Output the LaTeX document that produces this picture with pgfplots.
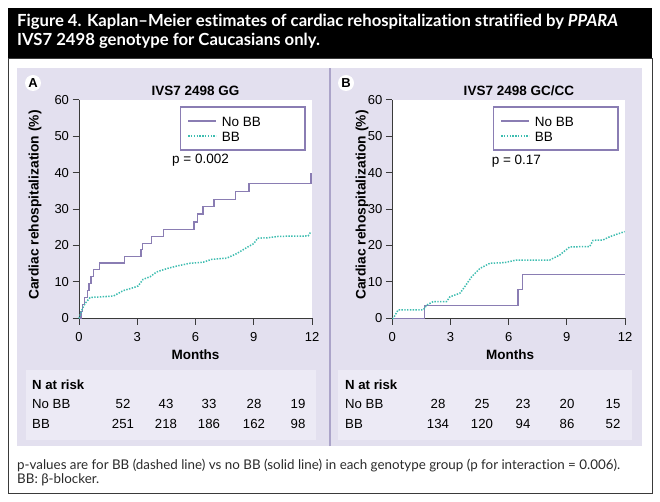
\documentclass[border=0pt]{standalone}
\usepackage{pgfplots}
\pgfplotsset{compat=1.18}
\usepackage{fontspec}
\setmainfont{Liberation Sans}
\newfontfamily\titlefont[Ligatures=NoCommon]{Lato}
\newfontfamily\notefont[Ligatures=NoCommon]{Lato}
\definecolor{lav}{HTML}{E3E0EF}
\definecolor{lavbox}{HTML}{ECEAF5}
\definecolor{nobb}{HTML}{8A7DB3}
\definecolor{bbc}{HTML}{3DBDB0}
\definecolor{divc}{HTML}{ABA4C9}
\definecolor{axc}{HTML}{3A3A3A}
\definecolor{notec}{HTML}{2A2A2A}
\newcommand\fs[1]{\fontsize{#1pt}{#1pt}\selectfont}
\newsavebox\tlA
\newsavebox\ntA

\pgfplotsset{
  every axis title shift=0pt,
  kmaxis/.style={
    scale only axis, height=218.6pt,
    xmin=0, xmax=12, ymin=0, ymax=60,
    xtick={0,3,6,9,12}, ytick={0,10,20,30,40,50,60},
    axis x line*=bottom, axis y line*=left,
    axis line style={-, axc, line width=0.9pt},
    tick style={axc, line width=0.9pt},
    tick align=outside, major tick length=6.5pt,
    minor tick num=0,
    axis background/.style={fill=white},
    ticklabel style={font=\fs{13}, text=black},
    xticklabel style={yshift=-4pt},
    /pgf/number format/assume math mode=true,
    clip=false,
    xlabel={Months},
    ylabel={Cardiac rehospitalization (\%)},
    xlabel style={font=\bfseries\fs{13.5}, anchor=center},
    ylabel style={font=\bfseries\fs{13.8}, anchor=center},
    title style={font=\bfseries\fs{13.5}, anchor=center, yshift=-7pt},
    legend cell align=left,
    legend style={at={(rel axis cs:0.973,0.969)}, anchor=north east,
      draw=nobb, line width=1.6pt, fill=white, font=\fs{13.5},
      inner xsep=7pt, inner ysep=6.3pt, column sep=3pt, row sep=0pt,
      nodes={inner sep=2pt, text height=10.5pt, text depth=0.5pt}},
    legend image code/.code={\draw[##1] (0pt,0pt) -- (28pt,0pt);},
  },
  nobbstyle/.style={nobb, line width=1.3pt, const plot, no marks},
  bbstyle/.style={bbc, line width=1.5pt, dash pattern=on 1.4pt off 1.4pt, sharp plot, no marks},
}

\begin{document}%
\sbox\tlA{\color{white}\titlefont\bfseries\fs{15}Figure 4. Kaplan–Meier estimates of cardiac rehospitalization stratified by \textit{PPARA}}%
\pgfmathsetmacro\tsc{601pt/\wd\tlA}%
\sbox\ntA{\color{notec}\notefont\fs{13}p-values are for BB (dashed line) vs no BB (solid line) in each genotype group (p for interaction = 0.006).}%
\pgfmathsetmacro\nsc{603pt/\wd\ntA}%
\begin{tikzpicture}[x=1pt,y=1pt]
\useasboundingbox (0,0) rectangle (660,501);
\fill[white] (0,0) rectangle (660,501);
% outer box and title bar
\fill[black] (8,443) rectangle (652,493);
\draw[axc, line width=0.8pt] (8,8) rectangle (652,443);
% panels
\fill[lav] (17,55) rectangle (642,433);
\draw[divc, line width=1.5pt] (330,55) -- (330,433);
\fill[lavbox] (26,61) rectangle (316,131);
\fill[lavbox] (338,61) rectangle (632,131);

% title text
\node[anchor=base west, inner sep=0pt, text=white] at (17,474) {\scalebox{\tsc}{\usebox\tlA}};
\node[anchor=base west, inner sep=0pt, text=white] at (17,455) {\scalebox{\tsc}{\titlefont\bfseries\fs{15}IVS7 2498 genotype for Caucasians only.}};

% footnote
\node[anchor=base west, inner sep=0pt, text=notec] at (17,32) {\scalebox{\nsc}{\usebox\ntA}};
\node[anchor=base west, inner sep=0pt, text=notec] at (17,17.5) {\scalebox{\nsc}{\notefont\fs{13}BB: β-blocker.}};

% panel letters
\node[circle, fill=white, inner sep=0pt, minimum size=16pt, font=\bfseries\fs{13}] at (33,418) {A};
\node[circle, fill=white, inner sep=0pt, minimum size=16pt, font=\bfseries\fs{13}] at (346,418) {B};

% ---------- Panel A ----------
\begin{axis}[kmaxis, at={(79pt,182.7pt)}, anchor=south west, width=233pt,
  title={IVS7 2498 GG},
  title style={at={(rel axis cs:0.5,1.072)}},
  xlabel style={at={(rel axis cs:0.5,-0.168)}},
  ylabel style={at={(rel axis cs:-0.189,0.518)}},
  legend entries={\makebox[74pt][l]{No BB},\makebox[74pt][l]{BB}},
]
\addplot[nobbstyle] coordinates {
 (0,0) (0.1,1.9) (0.18,3.8) (0.3,5.7) (0.42,7.6) (0.52,9.5) (0.62,11.4) (0.74,13.3)
 (1.05,15.2) (2.35,17.0) (3.2,18.8) (3.28,20.6) (3.74,22.4) (4.34,24.3) (5.93,26.4)
 (6.12,28.6) (6.38,30.7) (6.95,32.6) (8.05,34.9) (8.75,37.0) (11.95,39.8)
};
\addplot[bbstyle] coordinates {
 (0,0) (0.1,1.5) (0.15,2.3) (0.32,4.1) (0.57,5.7) (0.85,5.8) (1.77,6.1) (2.28,7.6)
 (2.8,8.4) (3.05,8.9) (3.3,10.7) (3.66,11.4) (3.99,12.7) (4.5,13.6) (5.0,14.3)
 (5.7,15.1) (6.4,15.4) (6.85,16.2) (7.6,16.5) (8.1,17.7) (8.7,19.6) (9.0,20.5)
 (9.2,22.0) (9.7,22.1) (10.3,22.5) (11.8,22.6) (11.95,23.8)
};
\node[anchor=west, font=\fs{13.5}, inner sep=0pt] at (axis cs:4.79,43.45) {p = 0.002};
\end{axis}

% ---------- Panel B ----------
\begin{axis}[kmaxis, at={(392.3pt,182.7pt)}, anchor=south west, width=232.7pt,
  title={IVS7 2498 GC/CC},
  title style={at={(rel axis cs:0.544,1.072)}},
  xlabel style={at={(rel axis cs:0.506,-0.168)}},
  ylabel style={at={(rel axis cs:-0.130,0.518)}},
  legend entries={\makebox[74pt][l]{No BB},\makebox[74pt][l]{BB}},
]
\addplot[nobbstyle] coordinates {
 (0,0) (1.65,3.6) (6.48,8.0) (6.72,12.1) (12,12.1)
};
\addplot[bbstyle] coordinates {
 (0,0) (0.05,0) (0.3,2.3) (1.6,2.3) (1.77,3.6) (2.11,4.6) (2.8,4.6) (2.97,5.9)
 (3.49,6.9) (3.74,8.7) (4.09,11.4) (4.52,13.7) (5.03,15.1) (5.8,15.3) (6.4,16.0)
 (8.12,16.0) (8.64,17.4) (9.15,19.6) (10.18,19.7) (10.35,21.4) (10.87,21.5)
 (11.21,22.4) (11.98,23.8)
};
\node[anchor=west, font=\fs{13.5}, inner sep=0pt] at (axis cs:5.12,43.0) {p = 0.17};
\end{axis}

% ---------- N at risk tables ----------
\begin{scope}[every node/.style={inner sep=0pt, font=\fs{13.2}}]
\node[anchor=base west, font=\bfseries\fs{13.2}] at (32,111.3) {N at risk};
\node[anchor=base west] at (32,92.3) {No BB};
\node[anchor=base west] at (32,73) {BB};
\foreach \x/\a/\b in {123/52/251, 166/43/218, 209/33/186, 254/28/162, 298/19/98}{
  \node[anchor=base] at (\x,92.3) {\a};
  \node[anchor=base] at (\x,73) {\b};
}
\node[anchor=base west, font=\bfseries\fs{13.2}] at (345,111.3) {N at risk};
\node[anchor=base west] at (345,92.3) {No BB};
\node[anchor=base west] at (345,73) {BB};
\foreach \x/\a/\b in {438/28/134, 482/25/120, 523/23/94, 567/20/86, 613/15/52}{
  \node[anchor=base] at (\x,92.3) {\a};
  \node[anchor=base] at (\x,73) {\b};
}
\end{scope}
\end{tikzpicture}%
\end{document}
